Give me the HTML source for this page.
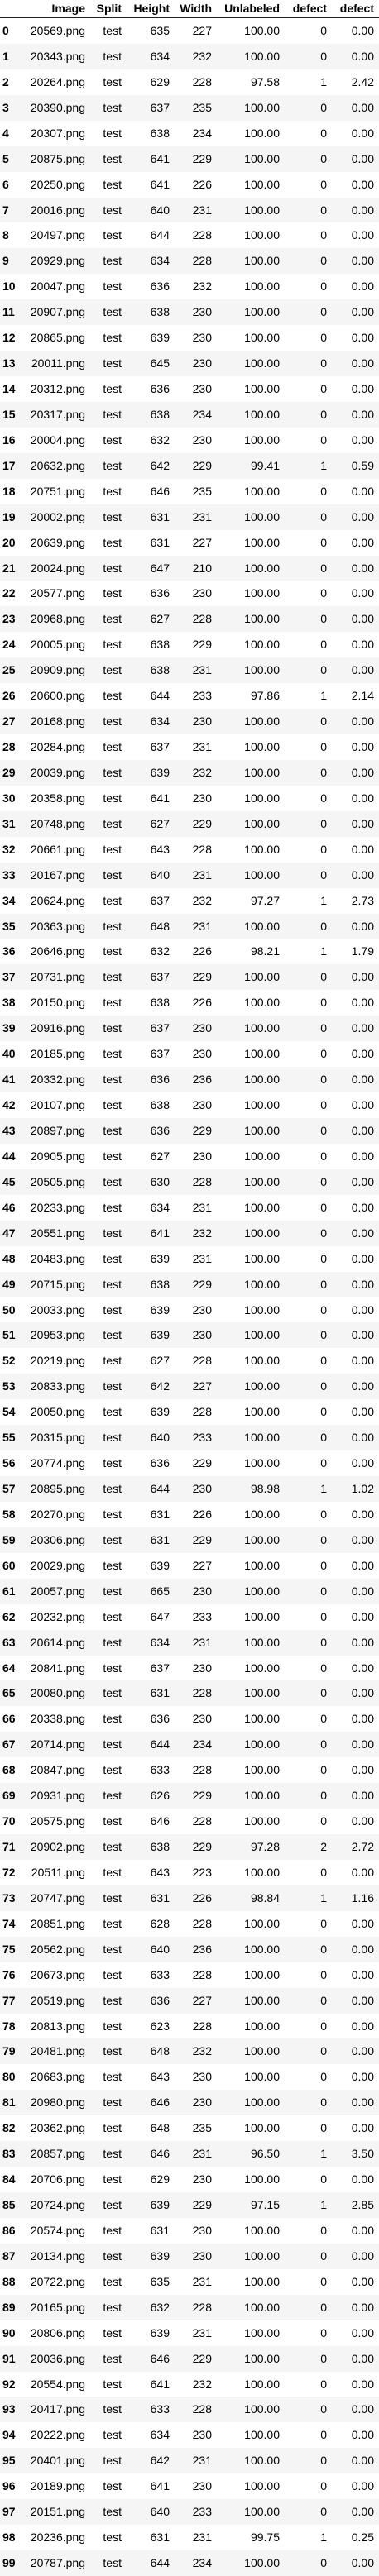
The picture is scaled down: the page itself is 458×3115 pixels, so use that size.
<!DOCTYPE html>
<html><head><meta charset="utf-8">
<style>
html,body{margin:0;padding:0;background:#fff;}
body{width:458px;height:3115px;position:relative;overflow:hidden;font-family:"Liberation Sans",Arial,sans-serif;font-size:14px;color:#000;}
.c{position:absolute;white-space:nowrap;text-align:right;}
.row{position:absolute;left:0;width:458px;}
.hdr{font-weight:bold;}
#line{position:absolute;left:0;top:21px;width:458px;height:1px;background:#222;}
</style></head>
<body>
<div id="table"></div>
<div id="line"></div>
<script>
const ids=["20569","20343","20264","20390","20307","20875","20250","20016","20497","20929","20047","20907","20865","20011","20312","20317","20004","20632","20751","20002","20639","20024","20577","20968","20005","20909","20600","20168","20284","20039","20358","20748","20661","20167","20624","20363","20646","20731","20150","20916","20185","20332","20107","20897","20905","20505","20233","20551","20483","20715","20033","20953","20219","20833","20050","20315","20774","20895","20270","20306","20029","20057","20232","20614","20841","20080","20338","20714","20847","20931","20575","20902","20511","20747","20851","20562","20673","20519","20813","20481","20683","20980","20362","20857","20706","20724","20574","20134","20722","20165","20806","20036","20554","20417","20222","20401","20189","20151","20236","20787"];
const heights=[635,634,629,637,638,641,641,640,644,634,636,638,639,645,636,638,632,642,646,631,631,647,636,627,638,638,644,634,637,639,641,627,643,640,637,648,632,637,638,637,637,636,638,636,627,630,634,641,639,638,639,639,627,642,639,640,636,644,631,631,639,665,647,634,637,631,636,644,633,626,646,638,643,631,628,640,633,636,623,648,643,646,648,646,629,639,631,639,635,632,639,646,641,633,634,642,641,640,631,644];
const widths=[227,232,228,235,234,229,226,231,228,228,232,230,230,230,230,234,230,229,235,231,227,210,230,228,229,231,233,230,231,232,230,229,228,231,232,231,226,229,226,230,230,236,230,229,230,228,231,232,231,229,230,230,228,227,228,233,229,230,226,229,227,230,233,231,230,228,230,234,228,229,228,229,223,226,228,236,228,227,228,232,230,230,235,231,230,229,230,230,231,228,231,229,232,228,230,231,230,233,231,234];
const defectCounts={2:1,17:1,26:1,34:1,36:1,57:1,71:2,73:1,83:1,85:1,98:1};
const defectPct={2:2.42,17:0.59,26:2.14,34:2.73,36:1.79,57:1.02,71:2.72,73:1.16,83:3.50,85:2.85,98:0.25};
const headers=["Image","Split","Height","Width","Unlabeled","defect","defect"];
const rights=[103,147,205,256,338,395,452];
const H=30.93, TOP=22;
const table=document.getElementById('table');
function cell(parent,text,right,top,h,bold){
  const d=document.createElement('div');
  d.className='c';
  d.style.right=(458-right)+'px';
  d.style.top=top+'px';
  d.style.height=h+'px';
  d.style.lineHeight=h+'px';
  if(bold) d.style.fontWeight='bold';
  d.textContent=text;
  return d;
}
const hdr=document.createElement('div');
hdr.className='row hdr';
hdr.style.top='0px';hdr.style.height='21px';


headers.forEach((t,j)=>{
  const d=cell(hdr,t,rights[j],0,21,true);
  
  
  hdr.appendChild(d);
});
table.appendChild(hdr);
for(let i=0;i<ids.length;i++){
  const r=document.createElement('div');
  r.className='row';
  r.style.top=(TOP+i*H)+'px';
  r.style.height=H+'px';
  r.style.background=(i%2===1)?'#f5f5f5':'#fff';
  
  
  const n=defectCounts[i]||0, p=defectPct[i]||0;
  const vals=[ids[i]+'.png','test',String(heights[i]),String(widths[i]),(100-p).toFixed(2),String(n),p.toFixed(2)];
  const idx=document.createElement('div');
  idx.className='c';
  idx.style.left='3px';idx.style.textAlign='left';
  idx.style.top='0px';idx.style.height=H+'px';idx.style.lineHeight=H+'px';
  idx.style.fontWeight='bold';
  idx.textContent=String(i);
  
  
  r.appendChild(idx);
  vals.forEach((v,j)=>{
    const d=cell(r,v,rights[j],0,H,false);
    
    
    r.appendChild(d);
  });
  table.appendChild(r);
}
</script>
</body></html>
